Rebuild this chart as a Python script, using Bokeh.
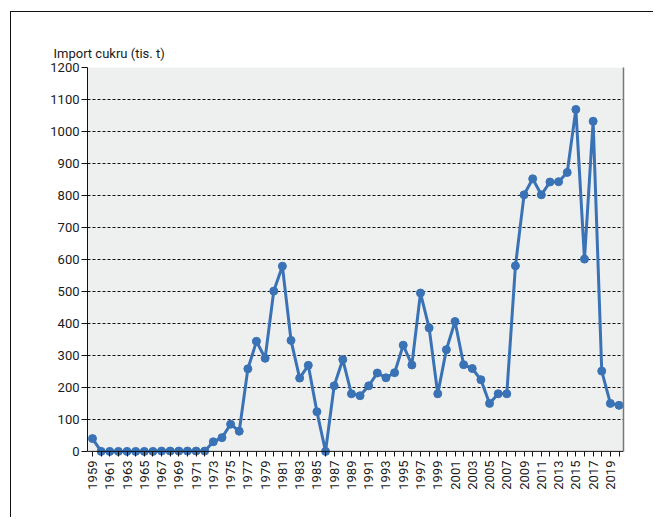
import math
from bokeh.plotting import figure
from bokeh.models import Range1d, FixedTicker, LinearAxis, BoxAnnotation, Span
from bokeh.embed import file_html
from bokeh.resources import INLINE

years = list(range(1959, 2021))
imports = [40, 0, 0, 0, 0, 0, 0, 0, 1, 1, 1, 1, 1, 1,
           30, 43, 85, 63, 258, 344, 291, 501, 579, 347, 229, 269, 124, 0,
           205, 287, 180, 174, 205, 245, 230, 246, 332, 270, 495, 386, 180,
           318, 406, 271, 259, 224, 150, 180, 180, 580, 802, 852, 802, 842,
           843, 872, 1069, 601, 1032, 251, 150, 144]
y_ticks = list(range(0, 1300, 100))
x_label_years = [y for y in years if y % 2 == 1]
x_other_years = [y for y in years if y % 2 == 0]
y_title = "Import cukru (tis. t)"

FONT = "Roboto"
TXT = "#1a1a1a"
BLUE = "#3a72b6"

p = figure(width=643, height=506, output_backend="svg", toolbar_location=None,
           x_range=Range1d(1958.42, 2020.52), y_range=Range1d(-16, 1200),
           min_border_left=76, min_border_top=55, min_border_right=31,
           min_border_bottom=62, background_fill_color="white",
           border_fill_color="white", outline_line_color=None,
           title=y_title)
p.styles = {"border-top": "1px solid #111", "border-left": "1px solid #111",
            "margin-left": "10px", "margin-top": "11px"}

p.title.text_font = FONT
p.title.text_font_size = "13px"
p.title.text_font_style = "normal"
p.title.text_color = TXT
p.title.align = "left"
p.title.offset = -34
p.title.standoff = 14

p.add_layout(BoxAnnotation(bottom=0, top=1200, fill_color="#eeefef",
                           fill_alpha=1, line_color=None, level="image"))

# x axis: ticks every year (pointing down from the zero line), labels on odd years
xa = p.xaxis[0]
xa.ticker = FixedTicker(ticks=x_label_years, minor_ticks=x_other_years)
xa.major_label_orientation = math.pi / 2
xa.axis_line_color = None
xa.major_tick_line_color = "#111"
xa.minor_tick_line_color = "#111"
xa.major_tick_in = 5
xa.major_tick_out = 0
xa.minor_tick_in = 5
xa.minor_tick_out = 0
xa.major_label_standoff = 4
xa.major_label_text_font = FONT
xa.major_label_text_font_size = "13px"
xa.major_label_text_color = TXT

# x axis baseline at zero
p.add_layout(Span(location=y_ticks[0], dimension="width", line_color="#111",
                  line_width=1, level="guide"))

ya = p.yaxis[0]
ya.ticker = FixedTicker(ticks=y_ticks, minor_ticks=[])
ya.bounds = (0, 1200)
ya.axis_line_color = "#111"
ya.major_tick_line_color = "#111"
ya.major_tick_in = 0
ya.major_tick_out = 6
ya.major_label_standoff = 2
ya.major_label_text_font = FONT
ya.major_label_text_font_size = "13px"
ya.major_label_text_color = TXT

ra = LinearAxis(ticker=FixedTicker(ticks=[], minor_ticks=[]), bounds=(0, 1200),
                axis_line_color="#777777", axis_line_width=1.5,
                major_label_text_font_size="0px", major_tick_line_color=None,
                minor_tick_line_color=None)
p.add_layout(ra, "right")

p.xgrid.visible = False
p.ygrid.ticker = FixedTicker(ticks=y_ticks[1:], minor_ticks=[])
p.ygrid.grid_line_color = "#111"
p.ygrid.grid_line_dash = "3 2"
p.ygrid.grid_line_width = 1

p.line(years, imports, line_color=BLUE, line_width=3)
p.scatter(years, imports, size=8, fill_color=BLUE, line_color=BLUE, line_width=1)

open("out.html", "w").write(file_html(p, INLINE))
